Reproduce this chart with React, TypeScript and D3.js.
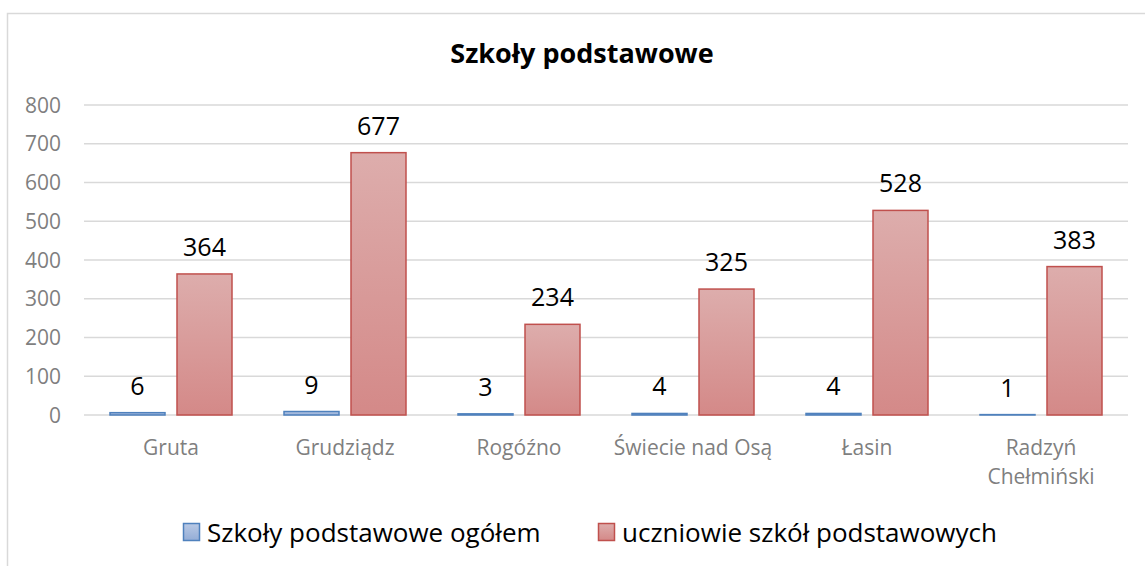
import React from "react";
import * as d3 from "d3";

const categories = ["Gruta", "Grudziądz", "Rogóźno", "Świecie nad Osą", "Łasin", "Radzyń Chełmiński"];
const categoryLines = [["Gruta"], ["Grudziądz"], ["Rogóźno"], ["Świecie nad Osą"], ["Łasin"], ["Radzyń", "Chełmiński"]];
const schools = [6, 9, 3, 4, 4, 1];
const pupils = [364, 677, 234, 325, 528, 383];
const seriesNames = ["Szkoły podstawowe ogółem", "uczniowie szkół podstawowych"];
const yTicks = [0, 100, 200, 300, 400, 500, 600, 700, 800];
const title = "Szkoły podstawowe";

const W = 1145;
const H = 566;
const FONT = "'Open Sans', sans-serif";

export default function App() {
  const plot = { left: 84, right: 1128, top: 105, bottom: 415 };
  const x0 = d3.scaleBand<string>().domain(categories).range([plot.left, plot.right]).paddingInner(0).paddingOuter(0);
  const bw = x0.bandwidth();
  const barW = bw * (55 / 174);
  const gap = bw * (12 / 174);
  const side = (bw - 2 * barW - gap) / 2;
  const y = d3.scaleLinear().domain([0, 800]).range([plot.bottom, plot.top]);

  const series = [
    { name: seriesNames[0], values: schools, grad: "gBlue", stroke: "#4f81bd" },
    { name: seriesNames[1], values: pupils, grad: "gRed", stroke: "#c0504d" },
  ];

  return (
    <svg width={W} height={H} style={{ position: "absolute", left: 0, top: 0 }}>
      <defs>
        <linearGradient id="gBlue" x1="0" y1="0" x2="0" y2="1">
          <stop offset="0" stopColor="#b9c9e5" />
          <stop offset="1" stopColor="#94add6" />
        </linearGradient>
        <linearGradient id="gRed" x1="0" y1="0" x2="0" y2="1">
          <stop offset="0" stopColor="#ddadac" />
          <stop offset="1" stopColor="#d48988" />
        </linearGradient>
      </defs>
      <rect x={0} y={0} width={W} height={H} fill="#ffffff" />
      <rect x={7.5} y={13.5} width={W + 20} height={H + 20} fill="#ffffff" stroke="#d9d9d9" strokeWidth={1.5} />
      <text x={582} y={63} textAnchor="middle" fontFamily={FONT} fontWeight="bold" fontSize={27} fill="#000">
        {title}
      </text>
      {yTicks.map((t) => (
        <g key={t}>
          <line x1={plot.left} x2={plot.right} y1={y(t)} y2={y(t)} stroke="#d9d9d9" strokeWidth={1.5} />
          <text x={61} y={y(t) + 7.5} textAnchor="end" fontFamily={FONT} fontSize={21} fill="#7f7f7f">
            {t}
          </text>
        </g>
      ))}
      {categories.map((c, i) => {
        const bx = x0(c)!;
        return (
          <g key={c}>
            {series.map((s, si) => {
              const v = s.values[i];
              const xx = bx + side + si * (barW + gap);
              const yy = y(v);
              return (
                <g key={s.name}>
                  <rect x={xx} y={yy} width={barW} height={y(0) - yy} fill={`url(#${s.grad})`} stroke={s.stroke} strokeWidth={1.5} />
                  <text x={xx + barW / 2} y={yy - 18} textAnchor="middle" fontFamily={FONT} fontSize={25} fill="#000">
                    {v}
                  </text>
                </g>
              );
            })}
            {categoryLines[i].map((ln, li) => (
              <text key={li} x={bx + bw / 2} y={455 + li * 28.5} textAnchor="middle" fontFamily={FONT} fontSize={21} fill="#7f7f7f">
                {ln}
              </text>
            ))}
          </g>
        );
      })}
      {series.map((s, si) => {
        const lx = si === 0 ? 183 : 598;
        return (
          <g key={s.name}>
            <rect x={lx + 0.5} y={523.5} width={16} height={17} fill={`url(#${s.grad})`} stroke={s.stroke} strokeWidth={1.5} />
            <text x={lx + 24} y={542} fontFamily={FONT} fontSize={26} fill="#000">
              {s.name}
            </text>
          </g>
        );
      })}
    </svg>
  );
}
